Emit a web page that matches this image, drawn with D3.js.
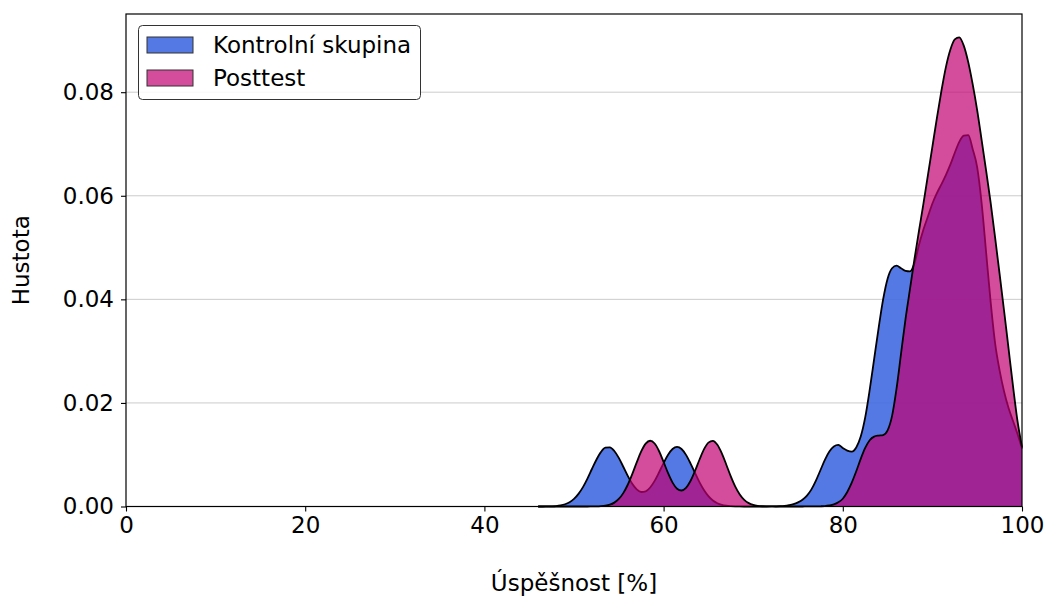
<!DOCTYPE html>
<html>
<head>
<meta charset="utf-8">
<script src="https://cdn.jsdelivr.net/npm/d3@7"></script>
<style>
  body { margin: 0; background: #fff; }
  text { font-family: "DejaVu Sans", sans-serif; }
</style>
</head>
<body>
<svg id="chart" width="1045" height="598"></svg>
<script>
// ---- data ----
const seriesNames = ["Kontrolní skupina", "Posttest"];
const scoreGrid = [46,46.5,47,47.5,48,48.5,49,49.5,50,50.5,51,51.5,52,52.5,53,53.5,54,54.5,55,55.5,
  56,56.5,57,57.5,58,58.5,59,59.5,60,60.5,61,61.5,62,62.5,63,63.5,64,64.5,65,65.5,
  66,66.5,67,67.5,68,68.5,69,69.5,70,70.5,71,71.5,72,72.5,73,73.5,74,74.5,75,75.5,
  76,76.5,77,77.5,78,78.5,79,79.5,80,80.5,81,81.5,82,82.5,83,83.5,84,84.5,85,85.5,
  86,86.5,87,87.5,88,88.5,89,89.5,90,90.5,91,91.5,92,92.5,93,93.5,94,94.5,95,95.5,
  96,96.5,97,97.5,98,98.5,99,99.5,100];
const densityKontrolni = [0,0,0.00002,0.00004,0.00009,0.00021,0.00043,0.00082,0.00146,0.00243,
  0.00375,0.0054,0.00724,0.00903,0.0105,0.01135,0.01143,0.01072,0.00939,0.00768,
  0.00591,0.00438,0.00331,0.0028,0.00293,0.00367,0.00494,0.00661,0.00839,0.00999,
  0.0111,0.0115,0.0111,0.00997,0.00834,0.0065,0.0047,0.00318,0.002,0.00117,
  0.00064,0.00032,0.00015,0.00007,0.00003,0.00001,0,0,0,0,
  0,0,0.00001,0.00003,0.00006,0.00012,0.00025,0.00045,0.0008,0.0013,
  0.0021,0.0033,0.005,0.007,0.009,0.0106,0.0116,0.0119,0.0113,0.0108,
  0.0106,0.0114,0.0135,0.0172,0.0225,0.0285,0.0345,0.04,0.044,0.046,
  0.0465,0.046,0.0455,0.0454,0.047,0.0505,0.0535,0.056,0.0585,0.0605,
  0.0622,0.064,0.066,0.0683,0.0704,0.0716,0.0717,0.069,0.0655,0.0585,
  0.049,0.0395,0.0315,0.0263,0.0222,0.019,0.0165,0.014,0.0112];
const densityPosttest = [0,0,0,0,0,0,0,0,0,0,
  0,0,0.00001,0.00002,0.00006,0.00015,0.00035,0.00075,0.00145,0.00258,
  0.0042,0.00625,0.00852,0.01064,0.01215,0.0127,0.01216,0.01067,0.00859,0.00643,
  0.00461,0.00344,0.00309,0.00361,0.00493,0.00685,0.00903,0.01102,0.01234,0.01268,
  0.01191,0.01025,0.00807,0.00581,0.00383,0.00231,0.00128,0.00065,0.0003,0.00013,
  0.00005,0.00002,0.00001,0,0,0,0,0,0,0,
  0.00001,0.00001,0.00002,0.00004,0.00008,0.0002,0.0004,0.0008,0.0015,0.0028,
  0.0046,0.0068,0.0092,0.0113,0.0128,0.0135,0.0137,0.0138,0.0147,0.0175,
  0.0228,0.0295,0.0362,0.042,0.0478,0.0532,0.0585,0.064,0.0695,0.075,
  0.0802,0.0848,0.0882,0.0902,0.0906,0.089,0.0858,0.0815,0.0765,0.0707,
  0.0648,0.0587,0.0519,0.0449,0.0378,0.0305,0.0232,0.0165,0.0115];
const xTicks = [0, 20, 40, 60, 80, 100];
const yTicks = [0, 0.02, 0.04, 0.06, 0.08];
const xLabel = "Úspěšnost [%]";
const yLabel = "Hustota";

// ---- layout / style ----
const plot = { left: 126, right: 1022, top: 14, bottom: 506.5 };
const fills = [
  { color: "#4169e1", opacity: 0.9 },
  { color: "#c20072", opacity: 0.7 }
];
const FONT = 23;

const svg = d3.select("#chart");
const x = d3.scaleLinear().domain([0, 100]).range([plot.left, plot.right]);
const y = d3.scaleLinear().domain([0, 0.0951]).range([plot.bottom, plot.top]);

// grid
svg.append("g").selectAll("line")
  .data(yTicks.filter(d => d > 0))
  .join("line")
  .attr("x1", plot.left).attr("x2", plot.right)
  .attr("y1", d => y(d)).attr("y2", d => y(d))
  .attr("stroke", "#cccccc").attr("stroke-width", 1);

// densities
const seriesData = [densityKontrolni, densityPosttest].map(arr =>
  scoreGrid.map((s, i) => ({ s, d: arr[i] })));

const area = d3.area().curve(d3.curveMonotoneX)
  .x(p => x(p.s)).y0(y(0)).y1(p => y(p.d));
const line = d3.line().curve(d3.curveMonotoneX)
  .x(p => x(p.s)).y(p => y(p.d));

seriesData.forEach((data, i) => {
  const g = svg.append("g");
  g.append("path").datum(data).attr("d", area)
    .attr("fill", fills[i].color).attr("fill-opacity", fills[i].opacity)
    .attr("stroke", "none");
  g.append("path").datum(data).attr("d", line)
    .attr("fill", "none").attr("stroke", "#000").attr("stroke-width", 1.8)
    .attr("stroke-linejoin", "round");
});

// axes
const xAxis = d3.axisBottom(x).tickValues(xTicks).tickFormat(d3.format("d"))
  .tickSize(5).tickSizeOuter(0).tickPadding(5);
const gx = svg.append("g").attr("transform", `translate(0,${plot.bottom})`).call(xAxis);
const yAxis = d3.axisLeft(y).tickValues(yTicks).tickFormat(d3.format(".2f"))
  .tickSize(5).tickSizeOuter(0).tickPadding(7);
const gy = svg.append("g").attr("transform", `translate(${plot.left},0)`).call(yAxis);
[gx, gy].forEach(g => {
  g.select(".domain").remove();
  g.selectAll(".tick line").attr("stroke", "#000").attr("stroke-width", 1.1);
  g.selectAll(".tick text").attr("fill", "#000")
    .style("font-size", FONT + "px").style("font-family", "DejaVu Sans");
});

// frame
svg.append("rect")
  .attr("x", plot.left).attr("y", plot.top)
  .attr("width", plot.right - plot.left).attr("height", plot.bottom - plot.top)
  .attr("fill", "none").attr("stroke", "#000").attr("stroke-width", 1.2);

// axis labels
svg.append("text").text(xLabel)
  .attr("x", (plot.left + plot.right) / 2).attr("y", 591)
  .attr("text-anchor", "middle").style("font-size", FONT + "px").attr("fill", "#000");
svg.append("text").text(yLabel)
  .attr("transform", `translate(29,${(plot.top + plot.bottom) / 2}) rotate(-90)`)
  .attr("text-anchor", "middle").style("font-size", FONT + "px").attr("fill", "#000");

// legend
const lg = svg.append("g");
lg.append("rect").attr("x", 138.5).attr("y", 25.5).attr("width", 282).attr("height", 74)
  .attr("rx", 4).attr("fill", "#fff").attr("fill-opacity", 0.85)
  .attr("stroke", "#333").attr("stroke-width", 1);
seriesNames.forEach((name, i) => {
  const yy = 37 + i * 33;
  lg.append("rect").attr("x", 147).attr("y", yy).attr("width", 46).attr("height", 16)
    .attr("fill", fills[i].color).attr("fill-opacity", fills[i].opacity)
    .attr("stroke", "#333").attr("stroke-width", 1);
  lg.append("text").text(name).attr("x", 213).attr("y", yy + 16)
    .style("font-size", FONT + "px").attr("fill", "#000");
});
</script>
</body>
</html>
